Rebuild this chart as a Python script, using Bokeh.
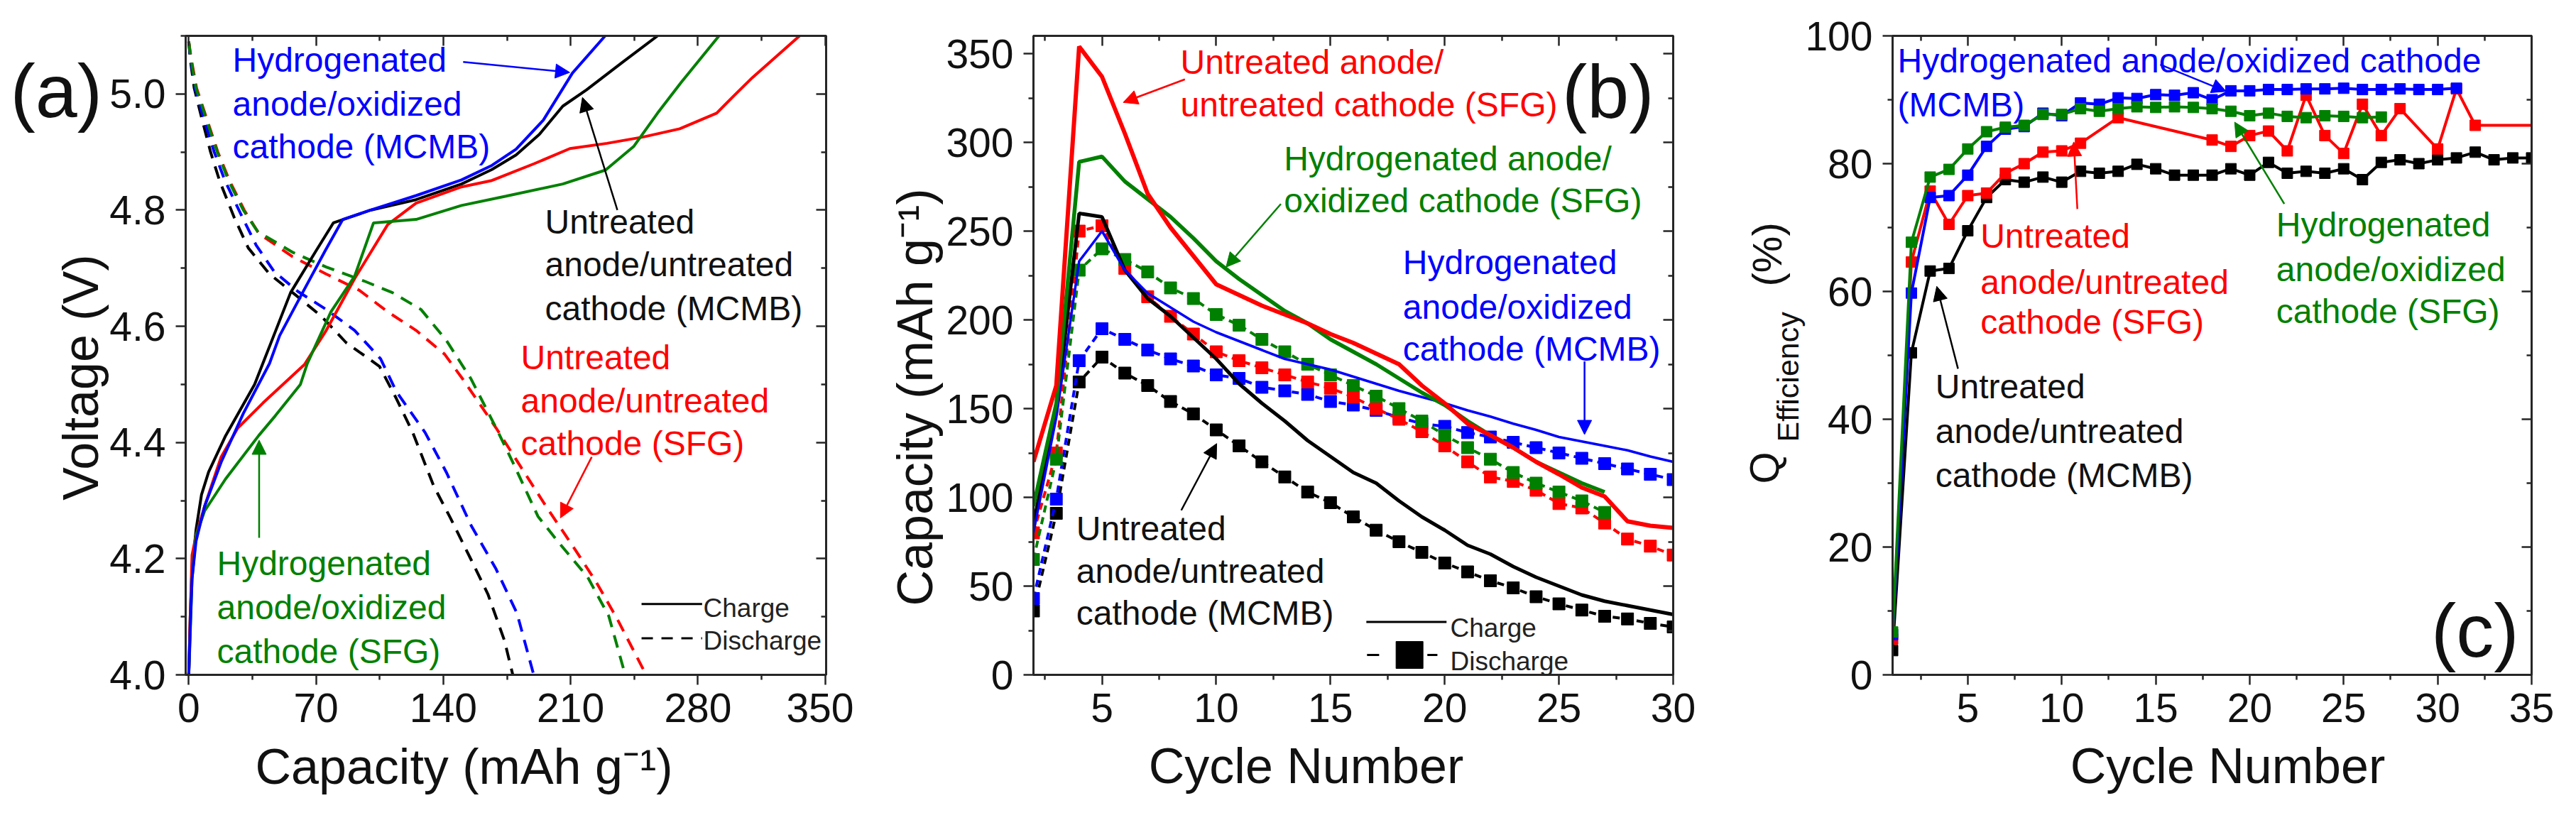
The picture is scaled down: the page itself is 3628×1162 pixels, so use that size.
import math
from bokeh.plotting import figure
from bokeh.models import (Range1d, LinearAxis, FixedTicker, Label, Arrow, NormalHead,
                          PrintfTickFormatter, CustomJSTickFormatter, GridBox)
from bokeh.embed import file_html
from bokeh.resources import INLINE

FONT = "Liberation Sans"
RED, GREEN, BLUE, BLACK = "#ff0000", "#008000", "#0000ff", "#000000"
TXT = "#111111"
FRAME = "#262626"

# ---------------- Panel (a): voltage profiles ----------------
a_blk_chg_x = [0, 0.8, 1.8, 4, 7, 10.9, 20, 36.2, 45, 56, 70, 79.5, 100, 125, 150, 166.7, 180, 192.7, 205.7, 218.7, 238.3, 257.8]
a_blk_chg_v = [4.0, 4.1, 4.18, 4.25, 4.31, 4.349, 4.41, 4.50, 4.57, 4.658, 4.73, 4.778, 4.80, 4.818, 4.845, 4.87, 4.895, 4.93, 4.979, 5.007, 5.054, 5.1]
a_blu_chg_x = [0, 0.8, 1.8, 4, 8.7, 17.8, 30, 44.4, 50, 62.6, 75, 84.7, 100, 125, 150, 166.7, 180, 195, 211, 229]
a_blu_chg_v = [4.0, 4.08, 4.165, 4.23, 4.29, 4.366, 4.45, 4.536, 4.584, 4.658, 4.73, 4.784, 4.80, 4.825, 4.852, 4.877, 4.905, 4.955, 5.036, 5.1]
a_red_chg_x = [0, 0.8, 1.8, 4, 8.7, 17.8, 27, 40.8, 52.2, 63.6, 75.6, 91.2, 109.4, 125, 150, 166.7, 190, 209.6, 230, 250, 270, 290.3, 299.5, 309.9, 335.9]
a_red_chg_v = [4.0, 4.1, 4.206, 4.24, 4.29, 4.375, 4.425, 4.468, 4.501, 4.534, 4.593, 4.682, 4.775, 4.812, 4.84, 4.851, 4.88, 4.906, 4.915, 4.926, 4.94, 4.967, 4.996, 5.028, 5.1]
a_grn_chg_x = [0, 0.6, 1.8, 4, 8.7, 20.2, 38.5, 47.6, 61.4, 65.2, 78.2, 91.2, 101.6, 125, 150, 174.5, 205.7, 229.2, 244.8, 257.8, 270.8, 291.6]
a_grn_chg_v = [4.0, 4.05, 4.165, 4.24, 4.282, 4.337, 4.412, 4.446, 4.50, 4.536, 4.625, 4.686, 4.778, 4.784, 4.808, 4.824, 4.845, 4.869, 4.91, 4.967, 5.02, 5.1]

a_blk_dis_x = [0, 0.8, 3, 7, 12, 17, 24.9, 32.7, 44.4, 58.7, 73, 86.5, 104.9, 114.1, 123.2, 134.7, 143.9, 155.3, 164.5, 173.6, 178.2]
a_blk_dis_v = [5.09, 5.06, 5.01, 4.96, 4.90, 4.85, 4.788, 4.735, 4.69, 4.654, 4.617, 4.572, 4.531, 4.476, 4.417, 4.325, 4.27, 4.198, 4.139, 4.059, 4.0]
a_blu_dis_x = [0, 1, 3.5, 8, 14, 20, 28.8, 37, 47, 60, 75.6, 91.2, 105.5, 114.1, 130, 141.6, 155.3, 169, 180.5, 189.7]
a_blu_dis_v = [5.09, 5.06, 5.01, 4.96, 4.90, 4.85, 4.792, 4.74, 4.694, 4.66, 4.629, 4.593, 4.544, 4.488, 4.417, 4.349, 4.257, 4.182, 4.106, 4.0]
a_red_dis_x = [0, 1.4, 4.3, 9.6, 16, 22.5, 30.5, 38.5, 57, 75.6, 93.8, 109.4, 125, 140.7, 150.7, 169, 182.8, 196.5, 212.6, 224, 235.5, 251.5]
a_red_dis_v = [5.09, 5.06, 5.01, 4.96, 4.90, 4.85, 4.80, 4.76, 4.72, 4.69, 4.662, 4.625, 4.593, 4.552, 4.509, 4.425, 4.357, 4.29, 4.215, 4.16, 4.097, 4.0]
a_grn_dis_x = [0, 1.2, 4, 9.3, 15.7, 22, 30, 37.9, 57.4, 75.6, 96.4, 112, 127.7, 141.6, 155.3, 169, 178.2, 192, 203.4, 219.4, 231, 240]
a_grn_dis_v = [5.09, 5.06, 5.01, 4.96, 4.90, 4.85, 4.80, 4.763, 4.727, 4.702, 4.678, 4.658, 4.629, 4.576, 4.509, 4.425, 4.366, 4.273, 4.228, 4.168, 4.101, 4.0]

a_xticks = [0, 70, 140, 210, 280, 350]
a_xminor = [35, 105, 175, 245, 315]
a_yticks = [4.0, 4.2, 4.4, 4.6, 4.8, 5.0]
a_yminor = [4.1, 4.3, 4.5, 4.7, 4.9, 5.1]

# ---------------- Panel (b): capacity vs cycle ----------------
b_cyc = list(range(2, 31))
b_cyc_g = list(range(2, 28))
b_red_chg = [120, 163, 354, 337, 305, 271, 252, 236, 220, 214, 208, 203, 198, 192, 187, 181, 175, 163, 153, 141.5, 135, 128, 120, 113, 105.5, 100.5, 86.5, 84, 82.8]
b_blk_chg = [85, 148, 260, 258, 228, 212, 202, 190, 178, 164, 153, 143, 132, 123, 114, 108, 98, 89, 81.5, 73, 68, 61, 55, 50, 45, 41.5, 39, 36.5, 34]
b_blu_chg = [80, 145, 233, 250, 228, 215, 207, 199, 193, 188, 183, 178, 175, 172, 168, 164, 160, 156.5, 153, 149, 145.5, 141.5, 138, 134, 131.5, 129, 126.5, 123, 120]
b_grn_chg = [95, 153, 289, 292, 278, 268, 258, 246, 233, 223, 214, 205, 198, 189, 182, 175, 167, 159, 152, 143, 135, 128, 120, 114, 108, 103]
b_blk_dis = [36, 91, 165, 179, 170, 163, 154, 147, 138, 129, 120, 111.5, 103, 97, 89, 81.5, 75, 69, 63, 58, 53, 49, 44, 40, 36.5, 33, 31.5, 29, 27]
b_blu_dis = [43, 99, 177, 195, 189, 183, 178, 174, 169, 167, 162, 160, 158, 154, 152, 149, 145, 141.5, 140, 136.5, 134, 131, 128, 125, 122, 119, 116, 113, 110]
b_red_dis = [80, 125, 250, 253, 229, 213, 202, 192, 182, 177, 173, 169, 165, 161.5, 156.5, 150, 144, 137, 129, 120, 111.5, 109, 104, 96.5, 94, 85.5, 76.5, 72.5, 67.5]
b_grn_dis = [65, 121.5, 228, 240, 234, 227, 218, 212, 203, 197, 189, 182, 175, 169, 163, 157, 150, 143, 135, 128, 121.5, 114, 108, 103, 98, 91.5]

b_xticks = [5, 10, 15, 20, 25, 30]
b_xminor = [2.5, 7.5, 12.5, 17.5, 22.5, 27.5]
b_yticks = [0, 50, 100, 150, 200, 250, 300, 350]
b_yminor = [25, 75, 125, 175, 225, 275, 325]

# ---------------- Panel (c): coulombic efficiency ----------------
c_cyc_blk = list(range(1, 36))
c_blk = [3.8, 50.4, 63.2, 63.6, 69.5, 74.7, 77.5, 77.1, 77.9, 77.1, 78.8, 78.5, 78.8, 79.9, 79.2, 78.2, 78.2, 78.2, 79.2, 78.2,
         80.2, 78.5, 78.8, 78.5, 79.2, 77.5, 80.2, 80.6, 80.0, 80.6, 80.9, 81.8, 80.6, 80.9, 80.9]
c_cyc_blu = list(range(1, 32))
c_blu = [6.3, 59.75, 74.7, 75.0, 78.2, 82.7, 85.4, 85.8, 87.9, 87.5, 89.5, 89.3, 90.3, 90.2, 90.8, 90.7, 91.1, 90.0, 91.4, 91.4,
         91.6, 91.6, 91.7, 91.7, 91.8, 91.6, 91.6, 91.7, 91.6, 91.6, 91.8]
c_cyc_red = [1, 2, 3, 4, 5, 6, 7, 8, 9, 10, 11, 13, 18, 19, 20, 21, 22, 23, 24, 25, 26, 27, 28, 30, 31, 32, 35]
c_red = [5.6, 64.6, 75.7, 70.5, 75.0, 75.4, 78.5, 80.0, 81.8, 82.0, 83.2, 87.2, 83.7, 82.7, 84.4, 85.1, 82.0, 90.7, 84.4, 81.6,
         89.3, 84.4, 88.6, 82.3, 91.7, 86.0, 86.0]
c_cyc_grn = list(range(1, 28))
c_grn = [6.7, 67.7, 77.9, 79.1, 82.3, 85.0, 85.7, 86.0, 87.7, 87.7, 88.6, 88.2, 88.6, 88.9, 88.8, 88.9, 88.8, 88.6, 88.2, 87.5,
         87.9, 87.4, 87.2, 87.5, 87.4, 87.2, 87.3]

c_xticks = [5, 10, 15, 20, 25, 30, 35]
c_xminor = [2.5, 7.5, 12.5, 17.5, 22.5, 27.5, 32.5]
c_yticks = [0, 20, 40, 60, 80, 100]
c_yminor = [10, 30, 50, 70, 90]

H = 1150
W_TOTAL = 1202 + 1210 + 1200


def make_fig(width, xr, yr, bl, br, xt, xm, yt, ym, yfmt=None):
    p = figure(width=width, height=H, x_range=Range1d(*xr), y_range=Range1d(*yr),
               output_backend="svg", toolbar_location=None,
               min_border_left=bl, min_border_right=br, min_border_top=50, min_border_bottom=H - 50 - 900)
    p.xgrid.visible = False
    p.ygrid.visible = False
    p.background_fill_color = "white"
    p.border_fill_color = "white"
    p.outline_line_color = FRAME
    p.outline_line_width = 3
    p.xaxis.ticker = FixedTicker(ticks=xt, minor_ticks=xm)
    p.yaxis.ticker = FixedTicker(ticks=yt, minor_ticks=ym)
    if yfmt is not None:
        p.yaxis.formatter = yfmt
    for ax in [p.xaxis[0], p.yaxis[0]]:
        ax.major_tick_out = 14
        ax.major_tick_in = 0
        ax.minor_tick_out = 7
        ax.minor_tick_in = 0
        ax.major_tick_line_width = 2.5
        ax.minor_tick_line_width = 2.5
        ax.major_tick_line_color = FRAME
        ax.minor_tick_line_color = FRAME
        ax.axis_line_color = FRAME
        ax.axis_line_width = 3
        ax.major_label_text_font = FONT
        ax.major_label_text_font_size = "57px"
        ax.major_label_text_color = TXT
    p.yaxis[0].major_label_standoff = 14
    p.xaxis[0].major_label_standoff = 12
    blank = CustomJSTickFormatter(code="return ''")
    for side, t, m in [("above", xt, xm), ("right", yt, ym)]:
        ax = LinearAxis(ticker=FixedTicker(ticks=t, minor_ticks=m), formatter=blank,
                        major_tick_in=14, major_tick_out=0, minor_tick_in=7, minor_tick_out=0,
                        major_tick_line_width=2.5, minor_tick_line_width=2.5,
                        major_tick_line_color=FRAME, minor_tick_line_color=FRAME,
                        axis_line_color=FRAME, axis_line_width=3, major_label_standoff=0,
                        major_label_text_font_size="10px")
        p.add_layout(ax, side)
    return p


def arrow(p, x0, y0, x1, y1, color):
    p.add_layout(Arrow(end=NormalHead(size=20, fill_color=color, line_color=color, line_width=1),
                       x_start=x0, y_start=y0, x_end=x1, y_end=y1,
                       line_color=color, line_width=2.5))


# ---------------- overlay for all texts (page-pixel coordinates) ----------------
ov = figure(width=W_TOTAL, height=H, x_range=Range1d(0, W_TOTAL), y_range=Range1d(0, H),
            x_axis_type=None, y_axis_type=None, output_backend="svg", toolbar_location=None,
            min_border=0)
ov.frame_align = False
ov.outline_line_color = None
ov.background_fill_color = None
ov.border_fill_color = None
ov.grid.visible = False

COMP = 0.2


def otxt(px, py, text, color, size=48, align="left", angle=0.0):
    x = px - 8
    y = H - (py - 8)
    if angle == 0.0:
        y += COMP * size
    else:
        x -= COMP * size
    ov.add_layout(Label(x=x, y=y, text=text, text_color=color, text_font=FONT,
                        text_font_size=f"{size}px", text_align=align, text_baseline="alphabetic",
                        angle=angle))


# ---------------- build (a) ----------------
pa = make_fig(1202, (-1.7, 350.5), (4.0, 5.1), 261, 39, a_xticks, a_xminor, a_yticks, a_yminor,
              yfmt=PrintfTickFormatter(format="%.1f"))
DASH_A = "18 12"
for xs, vs, c in [(a_blk_dis_x, a_blk_dis_v, BLACK), (a_blu_dis_x, a_blu_dis_v, BLUE),
                  (a_red_dis_x, a_red_dis_v, RED), (a_grn_dis_x, a_grn_dis_v, GREEN)]:
    pa.line(xs, vs, line_color=c, line_width=4, line_dash=DASH_A)
for xs, vs, c in [(a_blk_chg_x, a_blk_chg_v, BLACK), (a_red_chg_x, a_red_chg_v, RED),
                  (a_grn_chg_x, a_grn_chg_v, GREEN), (a_blu_chg_x, a_blu_chg_v, BLUE)]:
    pa.line(xs, vs, line_color=c, line_width=4)
arrow(pa, 150.9, 5.055, 209.5, 5.037, BLUE)
arrow(pa, 235.7, 4.800, 216.5, 4.994, BLACK)
arrow(pa, 221.6, 4.375, 204.4, 4.270, RED)
arrow(pa, 38.7, 4.236, 38.7, 4.404, GREEN)
pa.line([249, 282.3], [4.122, 4.122], line_color=BLACK, line_width=3)
pa.line([249, 282.3], [4.063, 4.063], line_color=BLACK, line_width=3, line_dash="16 12")

for t, yb in zip(["Hydrogenated", "anode/oxidized", "cathode (MCMB)"], [101.7, 163.3, 223.3]):
    otxt(335, yb, t, BLUE)
for t, yb in zip(["Untreated", "anode/untreated", "cathode (MCMB)"], [330, 390, 451.7]):
    otxt(775, yb, t, TXT)
for t, yb in zip(["Untreated", "anode/untreated", "cathode (SFG)"], [521, 581.6, 641.8]):
    otxt(741, yb, t, RED)
for t, yb in zip(["Hydrogenated", "anode/oxidized", "cathode (SFG)"], [810.6, 872.6, 934.5]):
    otxt(313, yb, t, GREEN)
otxt(998, 871, "Charge", "#222222", size=37)
otxt(998, 917, "Discharge", "#222222", size=37)
otxt(22, 157, "(a)", TXT, size=106)
otxt(661, 1101, "Capacity (mAh g\u207b\u00b9)", TXT, size=70, align="center")
otxt(135, 539, "Voltage (V)", TXT, size=70, align="center", angle=math.pi / 2)

# ---------------- build (b) ----------------
pb = make_fig(1210, (2, 30), (0, 360), 253, 56, b_xticks, b_xminor, b_yticks, b_yminor)
DASH_B = "10 7"
for ys, cyc, c in [(b_blk_dis, b_cyc, BLACK), (b_blu_dis, b_cyc, BLUE),
                   (b_red_dis, b_cyc, RED), (b_grn_dis, b_cyc_g, GREEN)]:
    pb.line(cyc, ys, line_color=c, line_width=4, line_dash=DASH_B)
    pb.scatter(cyc, ys, marker="square", size=17, fill_color=c, line_color=c)
for ys, cyc, c, w in [(b_blk_chg, b_cyc, BLACK, 5), (b_blu_chg, b_cyc, BLUE, 3.5),
                      (b_grn_chg, b_cyc_g, GREEN, 5.5), (b_red_chg, b_cyc, RED, 6)]:
    pb.line(cyc, ys, line_color=c, line_width=w)
arrow(pb, 8.63, 335.5, 5.93, 322.5, RED)
arrow(pb, 12.83, 265.3, 10.43, 229.7, GREEN)
arrow(pb, 26.12, 176.6, 26.12, 135.4, BLUE)
arrow(pb, 8.47, 92.7, 10.02, 130.3, BLACK)
pb.line([16.57, 20.08], [29.8, 29.8], line_color=BLACK, line_width=3)
pb.line([16.60, 17.13], [11.2, 11.2], line_color=BLACK, line_width=3)
pb.line([19.24, 19.68], [11.2, 11.2], line_color=BLACK, line_width=3)
pb.scatter([18.46], [11.2], marker="square", size=38, fill_color=BLACK, line_color=BLACK)

otxt(1670, 105, "Untreated anode/", RED)
otxt(1670, 165, "untreated cathode (SFG)", RED)
otxt(1815.7, 241, "Hydrogenated anode/", GREEN)
otxt(1815.7, 300, "oxidized cathode (SFG)", GREEN)
for t, yb in zip(["Hydrogenated", "anode/oxidized", "cathode (MCMB)"], [386.9, 449.4, 508.75]):
    otxt(1983.3, yb, t, BLUE)
for t, yb in zip(["Untreated", "anode/untreated", "cathode (MCMB)"], [761.9, 821.25, 880.6]):
    otxt(1523.3, yb, t, TXT)
otxt(2337, 158, "(b)", TXT, size=106, align="right")
otxt(2050, 899, "Charge", "#222222", size=37)
otxt(2050, 946, "Discharge", "#222222", size=37)
otxt(1847, 1100, "Cycle Number", TXT, size=70, align="center")
otxt(1310, 567, "Capacity (mAh g\u207b\u00b9)", TXT, size=70, align="center", angle=math.pi / 2)

# ---------------- build (c) ----------------
pc = make_fig(1200, (1, 35), (0, 100), 253, 47, c_xticks, c_xminor, c_yticks, c_yminor)
for ys, cyc, c in [(c_blk, c_cyc_blk, BLACK), (c_red, c_cyc_red, RED),
                   (c_blu, c_cyc_blu, BLUE), (c_grn, c_cyc_grn, GREEN)]:
    pc.line(cyc, ys, line_color=c, line_width=4)
    mk_x = cyc[:-1] if c == RED else cyc
    mk_y = ys[:-1] if c == RED else ys
    pc.scatter(mk_x, mk_y, marker="square", size=15, fill_color=c, line_color=c)
arrow(pc, 15.24, 95.5, 18.75, 91.3, BLUE)
arrow(pc, 10.83, 72.9, 10.64, 83.4, RED)
arrow(pc, 4.48, 47.9, 3.35, 60.8, BLACK)
arrow(pc, 21.84, 73.7, 19.2, 86.5, GREEN)

otxt(2680, 103, "Hydrogenated anode/oxidized cathode", BLUE)
otxt(2680, 165, "(MCMB)", BLUE)
for t, yb in zip(["Untreated", "anode/untreated", "cathode (SFG)"], [349.4, 415, 471]):
    otxt(2796.7, yb, t, RED)
for t, yb in zip(["Untreated", "anode/untreated", "cathode (MCMB)"], [561.9, 624.4, 686.9]):
    otxt(2733.3, yb, t, TXT)
for t, yb in zip(["Hydrogenated", "anode/oxidized", "cathode (SFG)"], [333.75, 396.25, 455.6]):
    otxt(3213.3, yb, t, GREEN)
otxt(3555, 917, "(c)", TXT, size=106, align="right")
otxt(3145, 1100, "Cycle Number", TXT, size=70, align="center")
otxt(2504, 689, "Q", TXT, size=58, angle=math.pi / 2)
otxt(2534, 630, "Efficiency", TXT, size=43, angle=math.pi / 2)
otxt(2508, 411, "(%)", TXT, size=58, angle=math.pi / 2)

layout = GridBox(children=[(pa, 0, 0), (pb, 0, 1), (pc, 0, 2), (ov, 0, 0, 1, 3)], spacing=0)
open("out.html", "w").write(file_html(layout, INLINE))
